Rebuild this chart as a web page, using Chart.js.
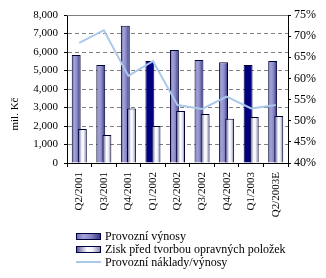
<!DOCTYPE html>
<html><head><meta charset="utf-8">
<script src="https://cdn.jsdelivr.net/npm/chart.js@4"></script>
<style>html,body{margin:0;padding:0;background:#fff;}#wrap{width:326px;height:278px;position:relative;}</style>
</head><body><div id="wrap"><canvas id="c" width="326" height="278"></canvas></div>
<script>
const categories = ['Q2/2001','Q3/2001','Q4/2001','Q1/2002','Q2/2002','Q3/2002','Q4/2002','Q1/2003','Q2/2003E'];
const provozniVynosy = [5840, 5300, 7420, 5510, 6110, 5570, 5440, 5300, 5510];
const ziskPredTvorbou = [1840, 1510, 2940, 2000, 2810, 2650, 2390, 2490, 2540];
const nakladyVynosy = [68.4, 71.4, 60.6, 64.1, 53.7, 52.8, 55.7, 52.9, 53.7];
const highlighted = [3, 7];
const seriesNames = ['Provozní výnosy', 'Zisk před tvorbou opravných položek', 'Provozní náklady/výnosy'];
const yTitle = 'mil. Kč';

const SERIF = '"Liberation Serif", "Times New Roman", serif';

function primaryGrad(ctx, x0, x1) {
  const g = ctx.createLinearGradient(x0, 0, x1, 0);
  g.addColorStop(0, '#6a6aae');
  g.addColorStop(0.3, '#a4a4d8');
  g.addColorStop(0.6, '#8686c4');
  g.addColorStop(1, '#2e2e80');
  return g;
}
function secondaryGrad(ctx, x0, x1) {
  const g = ctx.createLinearGradient(x0, 0, x1, 0);
  g.addColorStop(0, '#4a4a8c');
  g.addColorStop(0.45, '#ffffff');
  g.addColorStop(0.65, '#f2f2f8');
  g.addColorStop(1, '#7a7aa8');
  return g;
}

const gradPlugin = {
  id: 'grad',
  beforeDatasetsDraw(chart) {
    const ctx = chart.ctx;
    [0, 1].forEach(di => {
      const meta = chart.getDatasetMeta(di);
      meta.data.forEach((el, i) => {
        const x0 = el.x - el.width / 2, x1 = el.x + el.width / 2;
        let bg;
        if (di === 0) bg = highlighted.includes(i) ? '#000080' : primaryGrad(ctx, x0, x1);
        else bg = secondaryGrad(ctx, x0, x1);
        el.options = Object.assign({}, el.options, { backgroundColor: bg });
      });
    });
  },
  beforeDatasetDraw(chart, args) {
    if (args.index !== 0) return false;
  },
  afterDatasetsDraw(chart) {
    const ctx = chart.ctx;
    const a = chart.chartArea;
    [1, 2].forEach(di => {
      ctx.save();
      ctx.beginPath();
      ctx.rect(a.left, a.top - 2, a.right - a.left, a.bottom - a.top + 2);
      ctx.clip();
      chart.getDatasetMeta(di).controller.draw();
      ctx.restore();
    });
  },
  afterDraw(chart) {
    const ctx = chart.ctx;
    const a = chart.chartArea;
    ctx.save();
    ctx.strokeStyle = '#808080';
    ctx.lineWidth = 1;
    ctx.beginPath();
    ctx.moveTo(a.left, Math.round(a.top) + 0.5);
    ctx.lineTo(a.right, Math.round(a.top) + 0.5);
    ctx.stroke();
    ctx.fillStyle = '#000';
    ctx.font = '11px ' + SERIF;
    ctx.textAlign = 'center';
    ctx.textBaseline = 'middle';
    ctx.translate(15, 114);
    ctx.rotate(-Math.PI / 2);
    ctx.fillText(yTitle, 0, 0);
    ctx.restore();
    // legend
    ctx.save();
    ctx.font = '12px ' + SERIF;
    ctx.textBaseline = 'middle';
    const rows = [236, 249, 262];
    const sx0 = 76, sx1 = 101;
    ctx.fillStyle = primaryGrad(ctx, sx0, sx1);
    ctx.fillRect(sx0, rows[0] - 3, sx1 - sx0, 6);
    ctx.strokeStyle = '#000040';
    ctx.lineWidth = 1;
    ctx.strokeRect(sx0 + 0.5, rows[0] - 3 + 0.5, sx1 - sx0 - 1, 6);
    ctx.fillStyle = secondaryGrad(ctx, sx0, sx1);
    ctx.fillRect(sx0, rows[1] - 3, sx1 - sx0, 6);
    ctx.strokeRect(sx0 + 0.5, rows[1] - 3 + 0.5, sx1 - sx0 - 1, 6);
    ctx.strokeStyle = '#a9c8ea';
    ctx.lineWidth = 2;
    ctx.beginPath();
    ctx.moveTo(sx0, rows[2]);
    ctx.lineTo(sx1, rows[2]);
    ctx.stroke();
    ctx.fillStyle = '#000';
    seriesNames.forEach((n, i) => ctx.fillText(n, 105, rows[i] + 1));
    ctx.restore();
  }
};

new Chart(document.getElementById('c'), {
  data: {
    labels: categories,
    datasets: [
      { type: 'bar', label: seriesNames[0], data: provozniVynosy, yAxisID: 'y',
        borderColor: '#000033', borderWidth: 1, borderSkipped: 'bottom',
        barPercentage: 1.45, categoryPercentage: 0.5 },
      { type: 'bar', label: seriesNames[1], data: ziskPredTvorbou, yAxisID: 'y',
        borderColor: '#000033', borderWidth: 1, borderSkipped: 'bottom',
        barPercentage: 1.45, categoryPercentage: 0.5 },
      { type: 'line', label: seriesNames[2], data: nakladyVynosy, yAxisID: 'y1',
        borderColor: '#a9c8ea', borderWidth: 2, pointRadius: 0, tension: 0, fill: false }
    ]
  },
  options: {
    responsive: false,
    animation: false,
    devicePixelRatio: 1,
    layout: { padding: { top: 15, left: 0, right: 0, bottom: 0 } },
    plugins: { legend: { display: false }, tooltip: { enabled: false } },
    scales: {
      x: {
        grid: { drawOnChartArea: false, drawTicks: true, tickLength: 4, tickColor: '#000', offset: true },
        border: { display: true, color: '#000' },
        ticks: { minRotation: 90, maxRotation: 90, autoSkip: false, padding: 5, color: '#000', font: { family: SERIF, size: 11 } },
        afterFit: s => { s.height = 115; }
      },
      y: {
        position: 'left', min: 0, max: 8000,
        ticks: { stepSize: 1000, color: '#000', padding: 6, font: { family: SERIF, size: 11 },
          callback: v => v.toLocaleString('en-US') },
        grid: { color: '#808080', tickColor: '#000', tickLength: 3, tickBorderDash: [], lineWidth: 1 },
        border: { display: true, color: '#000', dash: [4, 3] },
        afterFit: s => { s.width = 67; }
      },
      y1: {
        position: 'right', min: 40, max: 75,
        ticks: { stepSize: 5, color: '#000', padding: 3, font: { family: SERIF, size: 12 },
          callback: v => v + '%' },
        grid: { drawOnChartArea: false, tickColor: '#000', tickLength: 3 },
        border: { display: true, color: '#000' },
        afterFit: s => { s.width = 38; }
      }
    }
  },
  plugins: [gradPlugin]
});
</script></body></html>
